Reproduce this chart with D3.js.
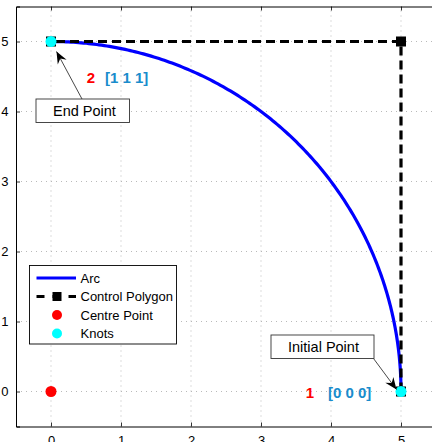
<!DOCTYPE html>
<html>
<head>
<meta charset="utf-8">
<script src="https://cdn.jsdelivr.net/npm/d3@7"></script>
<style>
  html, body { margin: 0; padding: 0; background: #fff; }
  svg { display: block; font-family: "Liberation Sans", Arial, Helvetica, sans-serif; }
</style>
</head>
<body>
<svg id="chart" width="432" height="442"></svg>
<script>
// Quadratic NURBS quarter circle: control polygon, weights and knot vector
const controlX = [5, 5, 0];
const controlY = [0, 5, 5];
const weights = [1, Math.SQRT1_2, 1];
const knotVector = [0, 0, 0, 1, 1, 1];

// Centre of the arc
const centreX = [0];
const centreY = [0];

// Knots shown on the curve (start and end) with their index and knot values
const knotPtX = [5, 0];
const knotPtY = [0, 5];
const knotIndex = ["1", "2"];
const knotValues = ["[0 0 0]", "[1 1 1]"];

// Axis ticks
const xTicks = [0, 1, 2, 3, 4, 5];
const yTicks = [0, 1, 2, 3, 4, 5];

// Legend entries
const legendLabels = ["Arc", "Control Polygon", "Centre Point", "Knots"];

const svg = d3.select("#chart");

const x = d3.scaleLinear().domain([-0.5, 5.5]).range([16, 436]);
const y = d3.scaleLinear().domain([-0.5, 5.5]).range([426.5, 6.5]);

const FONT = "Liberation Sans, Arial, Helvetica, sans-serif";

// Grid (dotted)
const grid = svg.append("g");
grid.selectAll("line.gx").data(xTicks).join("line")
  .attr("x1", d => x(d)).attr("x2", d => x(d))
  .attr("y1", y.range()[0]).attr("y2", y.range()[1])
  .attr("stroke", "#a8a8a8").attr("stroke-width", 0.8)
  .attr("stroke-dasharray", "1,4");
grid.selectAll("line.gy").data(yTicks).join("line")
  .attr("y1", d => y(d)).attr("y2", d => y(d))
  .attr("x1", x.range()[0]).attr("x2", x.range()[1])
  .attr("stroke", "#a8a8a8").attr("stroke-width", 0.8)
  .attr("stroke-dasharray", "1,4");

// Axes: ticks pointing inward on every side
const tickLen = 4;
const axBottom = svg.append("g").attr("transform", `translate(0,${y.range()[0]})`)
  .call(d3.axisBottom(x).tickValues(xTicks).tickSize(-tickLen).tickPadding(9).tickFormat(d3.format("d")));
const axTop = svg.append("g").attr("transform", `translate(0,${y.range()[1]})`)
  .call(d3.axisTop(x).tickValues(xTicks).tickSize(-tickLen).tickFormat(""));
const axLeft = svg.append("g").attr("transform", `translate(${x.range()[0]},0)`)
  .call(d3.axisLeft(y).tickValues(yTicks).tickSize(-tickLen).tickPadding(tickLen + 3.5).tickFormat(d3.format("d")));
const axRight = svg.append("g").attr("transform", `translate(${x.range()[1]},0)`)
  .call(d3.axisRight(y).tickValues(yTicks).tickSize(-tickLen).tickFormat(""));

[axBottom, axTop, axLeft, axRight].forEach(g => {
  g.select(".domain").attr("stroke", "#000").attr("stroke-width", 1);
  g.selectAll(".tick line").attr("stroke", "#000").attr("stroke-width", 0.8);
  g.selectAll(".tick text").attr("font-family", FONT).attr("font-size", 13).attr("fill", "#000");
});
axBottom.selectAll(".tick text").attr("dy", "0.71em");

// NURBS evaluation (Cox–de Boor basis, rational combination)
function basis(i, p, u, U) {
  if (p === 0) {
    const last = U[U.length - 1];
    if (u === last) return (U[i] < U[i + 1] && U[i + 1] === last) ? 1 : 0;
    return (U[i] <= u && u < U[i + 1]) ? 1 : 0;
  }
  let a = 0, b = 0;
  const d1 = U[i + p] - U[i], d2 = U[i + p + 1] - U[i + 1];
  if (d1 > 0) a = (u - U[i]) / d1 * basis(i, p - 1, u, U);
  if (d2 > 0) b = (U[i + p + 1] - u) / d2 * basis(i + 1, p - 1, u, U);
  return a + b;
}
const degree = knotVector.length - controlX.length - 1;
const params = d3.range(0, 201).map(k => k / 200);
const arcPts = params.map(u => {
  let sx = 0, sy = 0, sw = 0;
  controlX.forEach((cx, i) => {
    const nb = basis(i, degree, u, knotVector) * weights[i];
    sx += nb * cx; sy += nb * controlY[i]; sw += nb;
  });
  return [sx / sw, sy / sw];
});

const plot = svg.append("g");
const line = d3.line().x(d => x(d[0])).y(d => y(d[1]));

// Arc
plot.append("path").datum(arcPts).attr("d", line)
  .attr("fill", "none").attr("stroke", "#0000ff").attr("stroke-width", 3.2);

// Control polygon
const ctrlPts = controlX.map((cx, i) => [cx, controlY[i]]);
plot.append("path").datum(ctrlPts).attr("d", line)
  .attr("fill", "none").attr("stroke", "#000").attr("stroke-width", 3.2)
  .attr("stroke-dasharray", "9,5");
const sq = 10;
plot.selectAll("rect.ctrl").data(ctrlPts).join("rect")
  .attr("x", d => x(d[0]) - sq / 2).attr("y", d => y(d[1]) - sq / 2)
  .attr("width", sq).attr("height", sq).attr("fill", "#000");

// Centre point
plot.selectAll("circle.centre").data(centreX.map((cx, i) => [cx, centreY[i]])).join("circle")
  .attr("cx", d => x(d[0])).attr("cy", d => y(d[1])).attr("r", 5.5).attr("fill", "#ff0000");

// Knots
plot.selectAll("circle.knot").data(knotPtX.map((kx, i) => [kx, knotPtY[i]])).join("circle")
  .attr("cx", d => x(d[0])).attr("cy", d => y(d[1])).attr("r", 5.5).attr("fill", "#00ffff");

// Knot index and knot-vector labels (pixel offsets from each knot)
const labelOffsets = [
  { idx: [-91, 6], vec: [-73, 6] },
  { idx: [40, 41.2], vec: [54, 41.2] }
];
knotPtX.forEach((kx, i) => {
  const px = x(kx), py = y(knotPtY[i]);
  const o = labelOffsets[i];
  svg.append("text").attr("x", px + o.idx[0]).attr("y", py + o.idx[1])
    .attr("text-anchor", "middle").attr("font-family", FONT).attr("font-size", 15)
    .attr("font-weight", "bold").attr("fill", "#ff0000").text(knotIndex[i]);
  svg.append("text").attr("x", px + o.vec[0]).attr("y", py + o.vec[1])
    .attr("font-family", FONT).attr("font-size", 15)
    .attr("font-weight", "bold").attr("fill", "#1a8ccc").text(knotValues[i]);
});

// Text-box arrows pointing at the first and last knots
const callouts = [
  { text: "Initial Point", knot: 0, box: [271, 335, 103, 23.5], from: [373.5, 358.5], tip: [-4.5, -2] },
  { text: "End Point", knot: 1, box: [36, 99, 93.5, 23.5], from: [82, 99], tip: [5.5, 10] }
];
function arrowHead(tx, ty, fx, fy) {
  const ang = Math.atan2(ty - fy, tx - fx);
  const L = 12, w = 5, notch = 8;
  const pts = [
    [0, 0], [-L, -w], [-notch, 0], [-L, w]
  ].map(([a, b]) => [tx + a * Math.cos(ang) - b * Math.sin(ang), ty + a * Math.sin(ang) + b * Math.cos(ang)]);
  return "M" + pts.map(p => p.join(",")).join("L") + "Z";
}
callouts.forEach(c => {
  const kx = x(knotPtX[c.knot]), ky = y(knotPtY[c.knot]);
  const tx = kx + c.tip[0], ty = ky + c.tip[1];
  svg.append("line").attr("x1", c.from[0]).attr("y1", c.from[1]).attr("x2", tx).attr("y2", ty)
    .attr("stroke", "#333").attr("stroke-width", 0.9);
  svg.append("path").attr("d", arrowHead(tx, ty, c.from[0], c.from[1])).attr("fill", "#000");
  svg.append("rect").attr("x", c.box[0]).attr("y", c.box[1]).attr("width", c.box[2]).attr("height", c.box[3])
    .attr("fill", "#fff").attr("stroke", "#333").attr("stroke-width", 0.9);
  svg.append("text").attr("x", c.box[0] + 17).attr("y", c.box[1] + 17)
    .attr("font-family", FONT).attr("font-size", 14.5).attr("fill", "#000").text(c.text);
});

// Legend
const lg = svg.append("g");
lg.append("rect").attr("x", 29.5).attr("y", 265.5).attr("width", 147).attr("height", 78.5)
  .attr("fill", "#fff").attr("stroke", "#000").attr("stroke-width", 0.9);
const rowY = [278, 296.5, 315, 333.5];
const sx0 = 36.5, sx1 = 76, smid = 57;
legendLabels.forEach((lab, i) => {
  const ry = rowY[i];
  if (i === 0) {
    lg.append("line").attr("x1", sx0).attr("x2", sx1).attr("y1", ry).attr("y2", ry)
      .attr("stroke", "#0000ff").attr("stroke-width", 3.2);
  } else if (i === 1) {
    lg.append("line").attr("x1", sx0).attr("x2", sx1).attr("y1", ry).attr("y2", ry)
      .attr("stroke", "#000").attr("stroke-width", 3.2).attr("stroke-dasharray", "8,8,8,8");
    lg.append("rect").attr("x", smid - 4.5).attr("y", ry - 4.5).attr("width", 9).attr("height", 9).attr("fill", "#000");
  } else if (i === 2) {
    lg.append("circle").attr("cx", smid).attr("cy", ry).attr("r", 5).attr("fill", "#ff0000");
  } else {
    lg.append("circle").attr("cx", smid).attr("cy", ry).attr("r", 5).attr("fill", "#00ffff");
  }
  lg.append("text").attr("x", 80.5).attr("y", ry).attr("dy", "0.36em")
    .attr("font-family", FONT).attr("font-size", 13).attr("fill", "#000").text(lab);
});
</script>
</body>
</html>
